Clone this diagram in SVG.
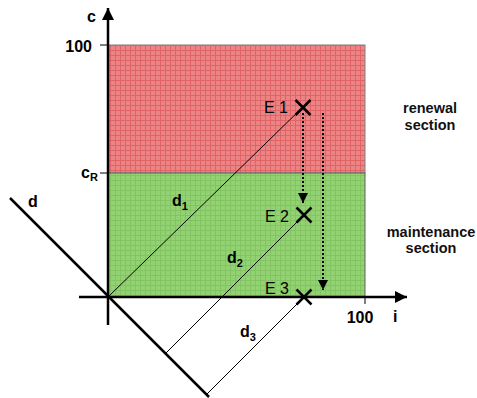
<svg xmlns="http://www.w3.org/2000/svg" width="477" height="398" viewBox="0 0 477 398">
  <defs>
    <pattern id="redp" width="5" height="5" patternUnits="userSpaceOnUse">
      <rect width="5" height="5" fill="#ec8384"/>
      <path d="M0 0.5H5M0.5 0V5" stroke="#e06466" stroke-width="1"/>
    </pattern>
    <pattern id="greenp" width="5" height="5" patternUnits="userSpaceOnUse">
      <rect width="5" height="5" fill="#93d272"/>
      <path d="M0 0.5H5M0.5 0V5" stroke="#82c461" stroke-width="1"/>
    </pattern>
    <marker id="arr" viewBox="0 0 10 10" refX="10" refY="5" markerWidth="10" markerHeight="10" markerUnits="userSpaceOnUse" orient="auto">
      <path d="M0 0L10 5L0 10Z" fill="#000"/>
    </marker>
    <marker id="axarr" viewBox="0 0 12 12" refX="12" refY="6" markerWidth="12" markerHeight="12" markerUnits="userSpaceOnUse" orient="auto">
      <path d="M0 0L12 6L0 12Z" fill="#000"/>
    </marker>
  </defs>
  <style>
    .lbl{font-family:"Liberation Sans",Arial,sans-serif;font-weight:bold;font-size:16px;fill:#000}
    .sec{font-family:"Liberation Sans",Arial,sans-serif;font-weight:bold;font-size:14.5px;fill:#111;text-anchor:middle}
    .e{font-family:"Liberation Sans",Arial,sans-serif;font-size:16px;fill:#000}
    .sub{font-size:11px}
    .axis{stroke:#000;stroke-width:2.5;fill:none}
    .thin{stroke:#000;stroke-width:1;fill:none}
    .cross{stroke:#000;stroke-width:2.5;fill:none}
    .dot{stroke:#000;stroke-width:2;stroke-dasharray:2 2;fill:none}
  </style>

  <g id="regions">
    <rect id="renewal-region" x="108" y="45" width="257" height="128" fill="url(#redp)" stroke="#808080" stroke-width="1"/>
    <rect id="maintenance-region" x="108" y="173" width="257" height="124" fill="url(#greenp)" stroke="#606060" stroke-width="1"/>
  </g>

  <g id="connectors">
    <!-- axes -->
    <line class="axis" x1="108" y1="325" x2="108" y2="8" marker-end="url(#axarr)"/>
    <line class="axis" x1="79" y1="297" x2="407" y2="297" marker-end="url(#axarr)"/>
    <line class="axis" x1="10" y1="198" x2="209" y2="397"/>
    <!-- ticks -->
    <line class="thin" x1="100" y1="45" x2="108" y2="45"/>
    <line class="thin" x1="100" y1="173" x2="108" y2="173"/>
    <line class="thin" x1="365" y1="297" x2="365" y2="304"/>
    <!-- distance lines -->
    <line class="thin" x1="108" y1="297" x2="303" y2="107"/>
    <line class="thin" x1="304" y1="215" x2="166" y2="353"/>
    <line class="thin" x1="304" y1="297" x2="206" y2="395"/>
    <!-- dotted transitions -->
    <line class="dot" x1="303" y1="113" x2="303" y2="203" marker-end="url(#arr)"/>
    <line class="dot" x1="323" y1="113" x2="323" y2="290" marker-end="url(#arr)"/>
  </g>

  <g id="axis-labels">
    <text class="lbl" x="87" y="22">c</text>
    <text class="lbl" x="92" y="52" text-anchor="end">100</text>
    <text class="lbl" x="81" y="178">c<tspan class="sub" dy="3">R</tspan></text>
    <text class="lbl" x="360" y="323" text-anchor="middle">100</text>
    <text class="lbl" x="393" y="322">i</text>
    <text class="lbl" x="28" y="207">d</text>
  </g>

  <g id="d-labels">
    <text class="lbl" x="172" y="206">d<tspan class="sub" dy="4">1</tspan></text>
    <text class="lbl" x="227" y="263">d<tspan class="sub" dy="4">2</tspan></text>
    <text class="lbl" x="240" y="337">d<tspan class="sub" dy="4">3</tspan></text>
  </g>

  <g id="E1">
    <path class="cross" d="M295.5 100L310.5 115M310.5 100L295.5 115"/>
    <text class="e" x="288" y="113" text-anchor="end">E 1</text>
  </g>
  <g id="E2">
    <path class="cross" d="M296.5 207.5L311.5 222.5M311.5 207.5L296.5 222.5"/>
    <text class="e" x="289" y="222" text-anchor="end">E 2</text>
  </g>
  <g id="E3">
    <path class="cross" d="M296.5 289.5L311.5 304.5M311.5 289.5L296.5 304.5"/>
    <text class="e" x="289" y="294" text-anchor="end">E 3</text>
  </g>

  <g id="renewal-section">
    <text class="sec" x="430" y="113">renewal</text>
    <text class="sec" x="430" y="130">section</text>
  </g>
  <g id="maintenance-section">
    <text class="sec" x="431" y="237">maintenance</text>
    <text class="sec" x="431" y="253">section</text>
  </g>
</svg>
